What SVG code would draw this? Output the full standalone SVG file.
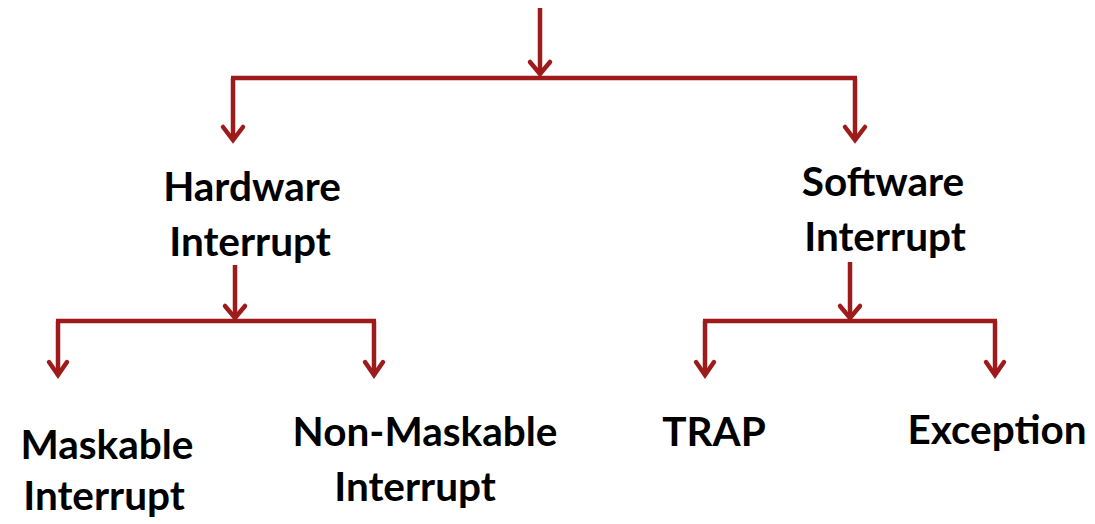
<svg xmlns="http://www.w3.org/2000/svg" width="1095" height="524" viewBox="0 0 1095 524">
<defs>
<style>
.c{stroke:#9E1B1B;stroke-width:4.5;fill:none;stroke-linecap:butt;stroke-linejoin:miter}
.h{stroke:#9E1B1B;stroke-width:4.5;fill:none;stroke-linecap:round;stroke-linejoin:miter}
text{font-family:Lato,"Liberation Sans",sans-serif;font-weight:700;font-size:40.5px;fill:#000;text-anchor:middle}
</style>
</defs>
<g id="connectors">
<path class="c" d="M540 8V75"/>
<path class="h" d="M530 62L540 74L550 62"/>
<path class="c" d="M231 78H857"/>
<path class="c" d="M233 78V140"/>
<path class="h" d="M223 127L233 140L243 127"/>
<path class="c" d="M855 78V140"/>
<path class="h" d="M845 127L855 140L865 127"/>
<path class="c" d="M235 265V318"/>
<path class="h" d="M225 306L235 318L245 306"/>
<path class="c" d="M56 321H376"/>
<path class="c" d="M58 321V375"/>
<path class="h" d="M49 362L58 375L67 362"/>
<path class="c" d="M374 321V375"/>
<path class="h" d="M365 362L374 375L383 362"/>
<path class="c" d="M850 262V318"/>
<path class="h" d="M840 306L850 318L860 306"/>
<path class="c" d="M703 321H997"/>
<path class="c" d="M705 321V375"/>
<path class="h" d="M696 362L705 375L714 362"/>
<path class="c" d="M995 321V375"/>
<path class="h" d="M986 362L995 375L1004 362"/>
</g>
<g id="hardware"><text x="252" y="201">Hardware</text><text x="250" y="256">Interrupt</text></g>
<g id="software"><text x="883" y="196">Software</text><text x="885" y="251">Interrupt</text></g>
<g id="maskable"><text x="107" y="459">Maskable</text><text x="104" y="510">Interrupt</text></g>
<g id="nonmaskable"><text x="425" y="446">Non-Maskable</text><text x="415" y="501">Interrupt</text></g>
<g id="trap"><text x="714" y="446">TRAP</text></g>
<g id="exception"><text x="997" y="444">Exception</text></g>
</svg>
